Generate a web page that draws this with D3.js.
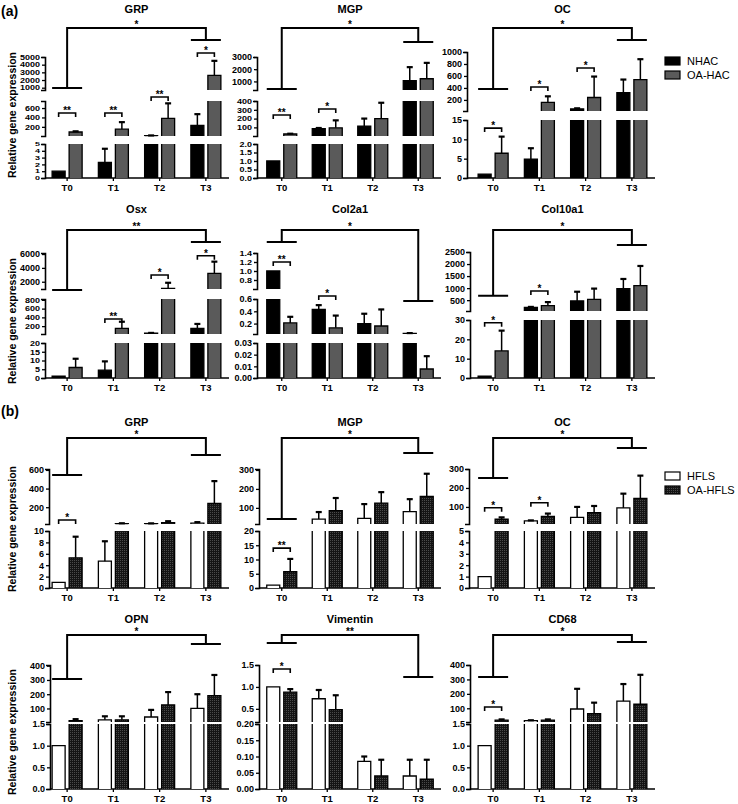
<!DOCTYPE html>
<html>
<head>
<meta charset="utf-8">
<script src="https://cdn.jsdelivr.net/npm/d3@7"></script>
<style>
  body { margin: 0; background: #fff; }
  svg { display: block; font-family: "Liberation Sans", Arial, sans-serif; }
  .tick text { font-weight: bold; }
</style>
</head>
<body>
<svg id="chart"></svg>
<script>
// ── data ──────────────────────────────────────────────────────────────────────
const times   = ['T0', 'T1', 'T2', 'T3'];
const seriesA = ['NHAC', 'OA-HAC'];
const seriesB = ['HFLS', 'OA-HFLS'];

// (a) chondrocytes — each panel: axis pieces, tick labels, means, SD, pair stars, trend star
const aGRP_dom   = [[0, 5], [5, 750], [700, 5000]];
const aGRP_ticks = [['0', '1', '2', '3', '4', '5'], ['200', '400', '600'], ['1000', '2000', '3000', '4000', '5000']];
const aGRP_mean  = [[1, 2.3, 15, 230], [90, 150, 380, 2600]];
const aGRP_sd    = [[0, 2, 2, 240], [15, 150, 320, 1900]];
const aGRP_sig   = [[0, '**', 1, 494], [1, '**', 1, 494], [2, '**', 1, 835], [3, '*', 2, 5524]];
const aGRP_all   = ['*', [2, 960], [2, 7220]];

const aMGP_dom   = [[0, 2], [2, 400], [300, 3000]];
const aMGP_ticks = [['0.0', '0.5', '1.0', '1.5', '2.0'], ['100', '200', '300', '400'], ['1000', '2000', '3000']];
const aMGP_mean  = [[1, 85, 115, 1070], [25, 95, 200, 1220]];
const aMGP_sd    = [[0, 8, 85, 1100], [3, 85, 180, 1300]];
const aMGP_sig   = [[0, '**', 1, 241], [1, '*', 1, 309]];
const aMGP_all   = ['*', [2, 382], [2, 4228]];

const aOC_dom    = [[0, 15], [15, 1000]];
const aOC_ticks  = [['0', '5', '10', '15'], ['200', '400', '600', '800', '1000']];
const aOC_mean   = [[1, 4.9, 50, 320], [6.4, 160, 240, 540]];
const aOC_sd     = [[0, 2.8, 10, 220], [4.3, 100, 350, 340]];
const aOC_sig    = [[0, '*', 0, 12.9], [1, '*', 1, 416], [2, '*', 1, 733]];
const aOC_all    = ['*', [1, 382], [1, 1200]];

const aOsx_dom   = [[0, 20], [20, 820], [950, 6150]];
const aOsx_ticks = [['0', '5', '10', '15', '20'], ['200', '400', '600', '800'], ['2000', '4000', '6000']];
const aOsx_mean  = [[1, 4.5, 40, 150], [6, 150, 1050, 3200]];
const aOsx_sd    = [[0, 5, 5, 100], [5, 150, 800, 1700]];
const aOsx_sig   = [[1, '**', 1, 363], [2, '*', 2, 2973], [3, '*', 2, 5760]];
const aOsx_all   = ['**', [2, 805], [2, 7740]];

const aCol2_dom   = [[0, 0.03], [0.03, 0.6], [0.6, 1.4]];
const aCol2_ticks = [['0.00', '0.01', '0.02', '0.03'], ['0.2', '0.4', '0.6'], ['0.8', '1.0', '1.2', '1.4']];
const aCol2_mean  = [[1.0, 0.43, 0.2, 0.04], [0.21, 0.13, 0.16, 0.0077]];
const aCol2_sd    = [[0, 0.07, 0.16, 0.005], [0.1, 0.2, 0.27, 0.011]];
const aCol2_sig   = [[0, '**', 2, 1.2], [1, '*', 1, 0.649]];
const aCol2_all   = ['*', [2, 1.644], [1, 0.567]];

const aCol10_dom   = [[0, 30], [50, 2500]];
const aCol10_ticks = [['0', '10', '20', '30'], ['500', '1000', '1500', '2000', '2500']];
const aCol10_mean  = [[1, 200, 470, 980], [14, 270, 530, 1100]];
const aCol10_sd    = [[0, 20, 380, 400], [10.5, 150, 450, 820]];
const aCol10_sig   = [[0, '*', 0, 28.6], [1, '*', 1, 880]];
const aCol10_all   = ['*', [1, 685], [1, 2790]];

// (b) synoviocytes
const bGRP_dom   = [[0, 10], [20, 610]];
const bGRP_ticks = [['0', '2', '4', '6', '8', '10'], ['200', '400', '600']];
const bGRP_mean  = [[1, 4.7, 24, 30], [5.3, 25, 35, 240]];
const bGRP_sd    = [[0, 3.5, 3, 10], [3.7, 3, 15, 240]];
const bGRP_sig   = [[0, '*', 1, 63]];
const bGRP_all   = ['*', [1, 546], [1, 760]];

const bMGP_dom   = [[0, 20], [15, 305]];
const bMGP_ticks = [['0', '5', '10', '15', '20'], ['100', '200', '300']];
const bMGP_mean  = [[1, 41, 45, 80], [5.7, 85, 125, 160]];
const bMGP_sd    = [[0, 37, 75, 66], [4.5, 67, 58, 120]];
const bMGP_sig   = [[0, '**', 0, 14]];
const bMGP_all   = ['*', [1, 41], [1, 389]];

const bOC_dom    = [[0, 5], [10, 300]];
const bOC_ticks  = [['0', '1', '2', '3', '4', '5'], ['100', '200', '300']];
const bOC_mean   = [[1, 26, 45, 95], [35, 50, 70, 145]];
const bOC_sd     = [[0, 3, 55, 75], [10, 15, 35, 120]];
const bOC_sig    = [[0, '*', 1, 96], [1, '*', 1, 122]];
const bOC_all    = ['*', [1, 252], [1, 411]];

const bOPN_dom   = [[0, 1.5], [5, 405]];
const bOPN_ticks = [['0.0', '0.5', '1.0', '1.5'], ['100', '200', '300', '400']];
const bOPN_mean  = [[1, 20, 40, 100], [15, 20, 125, 190]];
const bOPN_sd    = [[0, 25, 50, 100], [10, 25, 90, 145]];
const bOPN_sig   = [];
const bOPN_all   = ['*', [1, 307], [1, 552]];

const bVim_dom   = [[0, 0.2], [0.2, 1.5]];
const bVim_ticks = [['0.00', '0.05', '0.10', '0.15', '0.20'], ['0.5', '1.0', '1.5']];
const bVim_mean  = [[1.0, 0.73, 0.085, 0.04], [0.88, 0.48, 0.04, 0.03]];
const bVim_sd    = [[0, 0.2, 0.015, 0.05], [0.07, 0.33, 0.05, 0.06]];
const bVim_sig   = [[0, '*', 1, 1.41]];
const bVim_all   = ['**', [1, 2.0], [1, 1.227]];

const bCD68_dom   = [[0, 1.5], [5, 400]];
const bCD68_ticks = [['0.0', '0.5', '1.0', '1.5'], ['100', '200', '300', '400']];
const bCD68_mean  = [[1, 14, 95, 150], [18, 18, 62, 128]];
const bCD68_sd    = [[0, 3, 140, 118], [5, 5, 77, 204]];
const bCD68_sig   = [[0, '*', 1, 109]];
const bCD68_all   = ['*', [1, 317], [1, 559]];

// ── layout ────────────────────────────────────────────────────────────────────
const W = 738, H = 804;
const colRange   = [[44, 229], [259, 441], [470, 655]];
const axisX      = [[45, 257, 467], [45, 257, 470], [49, 259, 469], [50, 259, 470]];
const titleY     = [13, 213, 426, 623];
const bracketTop = [28, 230, 438, 635];
const ylabelY    = [115, 321, 529, 732];
const segLayout = {
    r1a: [[178, 144], [136, 101], [90, 57]],
    r1b: [[178, 120], [111, 52]],
    r2a: [[378, 343], [334, 299], [289, 253]],
    r2b: [[378, 320], [311, 252]],
    r3:  [[588, 531], [524, 469]],
    r4:  [[789, 724], [722, 665]]
};
const BAR_W = 13, BAR_GAP = 4, TICK_FONT = 9;
const LABEL_BOX = TICK_FONT * 1.16;   // rendered line box of a tick label

const panels = [
    { title: 'GRP',      r: 0, c: 0, segs: segLayout.r1a, dom: aGRP_dom,   ticks: aGRP_ticks,   mean: aGRP_mean,   sd: aGRP_sd,   sig: aGRP_sig,   all: aGRP_all,   set: 'a' },
    { title: 'MGP',      r: 0, c: 1, segs: segLayout.r1a, dom: aMGP_dom,   ticks: aMGP_ticks,   mean: aMGP_mean,   sd: aMGP_sd,   sig: aMGP_sig,   all: aMGP_all,   set: 'a' },
    { title: 'OC',       r: 0, c: 2, segs: segLayout.r1b, dom: aOC_dom,    ticks: aOC_ticks,    mean: aOC_mean,    sd: aOC_sd,    sig: aOC_sig,    all: aOC_all,    set: 'a' },
    { title: 'Osx',      r: 1, c: 0, segs: segLayout.r2a, dom: aOsx_dom,   ticks: aOsx_ticks,   mean: aOsx_mean,   sd: aOsx_sd,   sig: aOsx_sig,   all: aOsx_all,   set: 'a' },
    { title: 'Col2a1',   r: 1, c: 1, segs: segLayout.r2a, dom: aCol2_dom,  ticks: aCol2_ticks,  mean: aCol2_mean,  sd: aCol2_sd,  sig: aCol2_sig,  all: aCol2_all,  set: 'a' },
    { title: 'Col10a1',  r: 1, c: 2, segs: segLayout.r2b, dom: aCol10_dom, ticks: aCol10_ticks, mean: aCol10_mean, sd: aCol10_sd, sig: aCol10_sig, all: aCol10_all, set: 'a' },
    { title: 'GRP',      r: 2, c: 0, segs: segLayout.r3,  dom: bGRP_dom,   ticks: bGRP_ticks,   mean: bGRP_mean,   sd: bGRP_sd,   sig: bGRP_sig,   all: bGRP_all,   set: 'b' },
    { title: 'MGP',      r: 2, c: 1, segs: segLayout.r3,  dom: bMGP_dom,   ticks: bMGP_ticks,   mean: bMGP_mean,   sd: bMGP_sd,   sig: bMGP_sig,   all: bMGP_all,   set: 'b' },
    { title: 'OC',       r: 2, c: 2, segs: segLayout.r3,  dom: bOC_dom,    ticks: bOC_ticks,    mean: bOC_mean,    sd: bOC_sd,    sig: bOC_sig,    all: bOC_all,    set: 'b' },
    { title: 'OPN',      r: 3, c: 0, segs: segLayout.r4,  dom: bOPN_dom,   ticks: bOPN_ticks,   mean: bOPN_mean,   sd: bOPN_sd,   sig: bOPN_sig,   all: bOPN_all,   set: 'b' },
    { title: 'Vimentin', r: 3, c: 1, segs: segLayout.r4,  dom: bVim_dom,   ticks: bVim_ticks,   mean: bVim_mean,   sd: bVim_sd,   sig: bVim_sig,   all: bVim_all,   set: 'b' },
    { title: 'CD68',     r: 3, c: 2, segs: segLayout.r4,  dom: bCD68_dom,  ticks: bCD68_ticks,  mean: bCD68_mean,  sd: bCD68_sd,  sig: bCD68_sig,  all: bCD68_all,  set: 'b' }
];

const svg = d3.select('#chart').attr('width', W).attr('height', H);

// dark speckled fill used for OA-HFLS
const defs = svg.append('defs');
const pat = defs.append('pattern').attr('id', 'speckle')
    .attr('width', 2).attr('height', 2).attr('patternUnits', 'userSpaceOnUse');
pat.append('rect').attr('width', 2).attr('height', 2).attr('fill', '#141414');
pat.append('rect').attr('width', 1).attr('height', 1).attr('fill', '#4a4a4a');

const fills = { a: ['#000', '#5a5a5a'], b: ['#fff', 'url(#speckle)'] };

function drawPanel(p) {
    const g = svg.append('g');
    const ax = axisX[p.r][p.c];
    const x = d3.scaleBand().domain(times).range(colRange[p.c]);
    const ys = p.dom.map((d, i) => d3.scaleLinear().domain(d).range(p.segs[i]));
    const base = p.segs[0][0];
    const top = ys.length - 1;
    const barX = (t, s) => x(t) + x.bandwidth() / 2 + (s === 0 ? -BAR_GAP / 2 - BAR_W : BAR_GAP / 2);
    const barC = (t, s) => barX(t, s) + BAR_W / 2;

    // y axis pieces
    ys.forEach((y, i) => {
        const tv = p.ticks[i].map(Number);
        const a = g.append('g').attr('transform', `translate(${ax},0)`)
            .call(d3.axisLeft(y)
                .tickValues(tv)
                .tickFormat((d, j) => p.ticks[i][j])
                .tickSize(3).tickSizeOuter(4).tickPadding(2));
        a.select('.domain').attr('stroke-width', 1.6);
        a.selectAll('.tick line').attr('stroke-width', 1.3);
        const step = tv.length > 1 ? Math.abs(y(tv[1]) - y(tv[0])) : 99;
        const txt = a.selectAll('.tick text').attr('font-size', TICK_FONT);
        // crowded pieces: squeeze the labels vertically, as the original does
        if (step < LABEL_BOX) txt.attr('transform', `scale(1,${((step - 0.4) / LABEL_BOX).toFixed(3)})`);
    });

    // x axis
    const xa = g.append('g').attr('transform', `translate(0,${base})`)
        .call(d3.axisBottom(x).tickSize(3).tickSizeOuter(0).tickPadding(3));
    xa.select('.domain').remove();
    xa.selectAll('.tick line').attr('stroke-width', 1.3);
    xa.selectAll('.tick text').attr('font-size', 9.5);
    g.append('line').attr('x1', ax).attr('x2', colRange[p.c][1]).attr('y1', base).attr('y2', base)
        .attr('stroke', '#000').attr('stroke-width', 1.6);

    // bars, broken across axis pieces
    p.mean.forEach((vals, s) => {
        vals.forEach((m, ti) => {
            const t = times[ti];
            const x0 = barX(t, s), x1 = x0 + BAR_W;
            ys.forEach((y, i) => {
                const [lo, hi] = p.dom[i];
                if (m <= lo) return;
                const v = Math.min(m, hi);
                const yb = y(lo), yt = y(v);
                g.append('rect').attr('x', x0).attr('y', yt).attr('width', BAR_W)
                    .attr('height', Math.max(0, yb - yt)).attr('fill', fills[p.set][s]);
                let d = `M${x0},${yb}V${yt}`;
                d += m <= hi ? `H${x1}` : `M${x1},${yt}`;
                d += `V${yb}`;
                g.append('path').attr('d', d).attr('fill', 'none')
                    .attr('stroke', '#000').attr('stroke-width', 1.3);
            });

            // upper error bar
            const e = p.sd[s][ti];
            if (!(e > 0)) return;
            const v1 = m + e, cx = barC(t, s);
            let cs = p.dom.findIndex(d => v1 >= d[0] && v1 <= d[1]);
            if (cs < 0) {
                if (v1 > p.dom[top][1]) cs = top;
                else p.dom.forEach((d, i) => { if (d[1] < v1) cs = i; });
            }
            const capV = cs === top ? v1 : Math.min(v1, p.dom[cs][1]);
            ys.forEach((y, i) => {
                if (i > cs) return;
                const [lo, hi] = p.dom[i];
                const a = Math.max(m, lo), b = i === cs ? capV : hi;
                if (a >= b) return;
                g.append('line').attr('x1', cx).attr('x2', cx).attr('y1', y(a)).attr('y2', y(b))
                    .attr('stroke', '#000').attr('stroke-width', 1.5);
            });
            g.append('line').attr('x1', cx - 3).attr('x2', cx + 3)
                .attr('y1', ys[cs](capV)).attr('y2', ys[cs](capV))
                .attr('stroke', '#000').attr('stroke-width', 2.2);
        });
    });

    // pairwise significance brackets
    p.sig.forEach(([ti, label, seg, lev]) => {
        const t = times[ti];
        const yy = ys[seg](lev), xa0 = barC(t, 0), xa1 = barC(t, 1);
        g.append('path').attr('d', `M${xa0},${yy + 4}V${yy}H${xa1}V${yy + 4}`)
            .attr('fill', 'none').attr('stroke', '#000').attr('stroke-width', 1.6);
        g.append('text').attr('x', (xa0 + xa1) / 2).attr('y', yy + 1)
            .attr('text-anchor', 'middle').attr('font-size', 10).attr('font-weight', 'bold').text(label);
    });

    // T0 vs T3 trend bracket
    const [lab, L, R] = p.all;
    const xl = x('T0') + x.bandwidth() / 2, xr = x('T3') + x.bandwidth() / 2;
    const yl = ys[L[0]](L[1]), yr = ys[R[0]](R[1]), yt = bracketTop[p.r];
    g.append('path')
        .attr('d', `M${xl - 15},${yl}H${xl + 15}M${xl},${yl}V${yt}H${xr}V${yr}M${xr - 15},${yr}H${xr + 15}`)
        .attr('fill', 'none').attr('stroke', '#000').attr('stroke-width', 2);
    g.append('text').attr('x', (xl + xr) / 2).attr('y', yt - 0.5)
        .attr('text-anchor', 'middle').attr('font-size', 10).attr('font-weight', 'bold').text(lab);

    // title
    g.append('text').attr('x', (colRange[p.c][0] + colRange[p.c][1]) / 2).attr('y', titleY[p.r])
        .attr('text-anchor', 'middle').attr('font-size', 11).attr('font-weight', 'bold').text(p.title);

    if (p.c === 0) {
        g.append('text').attr('transform', `translate(16,${ylabelY[p.r]}) rotate(-90)`)
            .attr('text-anchor', 'middle').attr('font-size', 10.5).attr('font-weight', 'bold')
            .text('Relative gene expression');
    }
}

panels.forEach(drawPanel);

// panel letters
svg.append('text').attr('x', 1).attr('y', 16).attr('font-size', 14).attr('font-weight', 'bold').text('(a)');
svg.append('text').attr('x', 1).attr('y', 416).attr('font-size', 14).attr('font-weight', 'bold').text('(b)');

// legends
function legend(names, set, y0) {
    const lg = svg.append('g').attr('transform', `translate(665,${y0})`);
    names.forEach((n, i) => {
        lg.append('rect').attr('x', 0).attr('y', i * 14).attr('width', 15).attr('height', 8)
            .attr('fill', fills[set][i]).attr('stroke', '#000').attr('stroke-width', 1.2);
        lg.append('text').attr('x', 22).attr('y', i * 14 + 8).attr('font-size', 11).text(n);
    });
}
legend(seriesA, 'a', 57);
legend(seriesB, 'b', 472);
</script>
</body>
</html>
